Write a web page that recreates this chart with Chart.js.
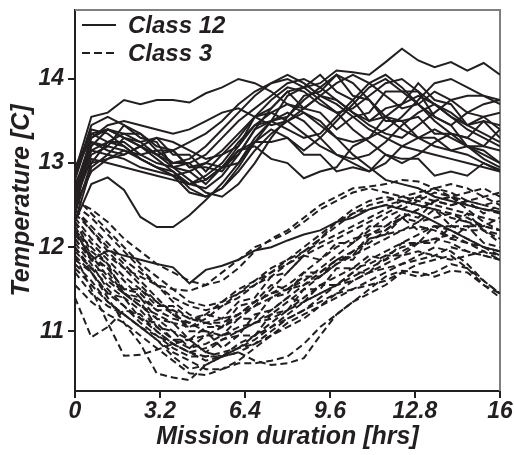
<!DOCTYPE html>
<html>
<head>
<meta charset="utf-8">
<script src="https://cdn.jsdelivr.net/npm/chart.js@4.4.1/dist/chart.umd.min.js"></script>
<style>
  body { margin: 0; background: #fff; }
</style>
</head>
<body>
<canvas id="tempChart" width="514" height="455"></canvas>
<script>
// sample times along the mission (hrs)
var hours = [0, 0.615, 1.231, 1.846, 2.462, 3.077, 3.692, 4.308, 4.923, 5.538, 6.154, 6.769, 7.385,
  8.0, 8.615, 9.231, 9.846, 10.462, 11.077, 11.692, 12.308, 12.923, 13.538, 14.154, 14.769, 15.385, 16.0];

// Class 12 runs, temperature [C]
var class12 = [
  [12.9, 13.55, 13.6, 13.75, 13.7, 13.75, 13.75, 13.72, 13.83, 13.9, 14.0, 13.95, 13.85, 13.7, 13.65, 13.8, 13.95, 14.05, 13.95, 13.8, 13.65, 13.7, 13.85, 13.75, 13.6, 13.55, 13.4],
  [12.7, 13.3, 13.4, 13.3, 13.2, 13.1, 13.0, 13.05, 13.2, 13.4, 13.6, 13.8, 13.95, 14.0, 13.9, 13.95, 14.1, 14.08, 14.05, 14.2, 14.36, 14.22, 14.14, 14.2, 14.1, 14.19, 14.05],
  [12.3, 12.75, 12.83, 12.68, 12.36, 12.24, 12.24, 12.38, 12.56, 12.76, 13.0, 13.3, 13.5, 13.6, 13.5, 13.3, 13.1, 13.0, 12.9, 13.0, 13.2, 13.3, 13.4, 13.3, 13.2, 13.1, 13.0],
  [12.2, 11.85, 11.96, 11.9, 11.85, 11.8, 11.76, 11.57, 11.73, 11.78, 11.85, 11.96, 12.0, 12.08, 12.15, 12.2, 12.3, 12.35, 12.45, 12.5, 12.45, 12.4, 12.3, 12.2, 12.1, 12.0, 11.95],
  [12.6, 13.1, 13.2, 13.15, 13.05, 12.95, 12.85, 12.75, 12.8, 12.95, 13.2, 13.45, 13.6, 13.7, 13.6, 13.5, 13.3, 13.1, 12.95, 12.8, 12.75, 12.7, 12.6, 12.55, 12.5, 12.45, 12.42],
  [12.5, 13.35, 13.4, 13.3, 13.2, 13.05, 12.9, 12.75, 12.7, 12.85, 13.1, 13.4, 13.65, 13.85, 13.9, 13.75, 13.6, 13.4, 13.25, 13.1, 13.0, 13.1, 13.25, 13.35, 13.3, 13.2, 13.15],
  [12.7, 13.25, 13.2, 13.45, 13.3, 13.25, 12.95, 12.9, 12.75, 12.95, 13.1, 13.4, 13.5, 13.8, 13.9, 14.05, 13.85, 13.75, 13.5, 13.65, 13.7, 13.95, 13.75, 13.7, 13.45, 13.5, 13.3],
  [12.4, 13.0, 13.25, 13.35, 13.25, 13.1, 12.95, 12.8, 12.65, 12.6, 12.75, 13.0, 13.3, 13.55, 13.75, 13.9, 14.05, 13.95, 13.75, 13.55, 13.4, 13.3, 13.2, 13.15, 13.1, 13.0, 12.9],
  [12.8, 13.4, 13.35, 13.2, 13.05, 12.95, 12.85, 12.65, 12.6, 12.7, 12.95, 13.25, 13.4, 13.3, 13.15, 13.3, 13.5, 13.7, 13.9, 14.0, 13.85, 13.7, 13.55, 13.45, 13.6, 13.7, 13.75],
  [12.6, 13.25, 13.15, 13.1, 13.2, 13.1, 13.15, 12.95, 12.95, 12.9, 13.15, 13.2, 13.05, 13.0, 12.82, 12.9, 12.95, 13.2, 13.3, 13.55, 13.5, 13.55, 13.35, 13.35, 13.3, 13.5, 13.45],
  [12.9, 13.3, 13.45, 13.5, 13.45, 13.4, 13.35, 13.4, 13.5, 13.6, 13.65, 13.55, 13.45, 13.5, 13.65, 13.8, 13.75, 13.6, 13.45, 13.35, 13.3, 13.45, 13.6, 13.75, 13.8, 13.8, 13.75],
  [12.3, 12.95, 13.1, 13.05, 12.95, 12.9, 12.85, 12.9, 13.0, 13.15, 13.35, 13.55, 13.6, 13.5, 13.35, 13.2, 13.1, 13.05, 13.1, 13.25, 13.45, 13.6, 13.7, 13.6, 13.45, 13.35, 13.25],
  [12.75, 13.15, 13.1, 13.3, 13.25, 13.3, 13.1, 13.1, 12.9, 13.1, 13.2, 13.55, 13.65, 13.85, 13.65, 13.6, 13.4, 13.55, 13.6, 13.85, 13.85, 13.85, 13.55, 13.45, 13.2, 13.15, 13.0],
  [12.55, 13.05, 13.0, 12.95, 12.9, 12.85, 12.8, 12.75, 12.85, 13.0, 13.25, 13.45, 13.5, 13.4, 13.3, 13.35, 13.55, 13.75, 13.95, 14.05, 13.9, 13.7, 13.5, 13.35, 13.2, 13.05, 12.95],
  [12.85, 13.45, 13.55, 13.45, 13.35, 13.2, 13.15, 13.25, 13.35, 13.5, 13.7, 13.85, 13.95, 14.05, 13.95, 13.8, 13.7, 13.55, 13.4, 13.3, 13.2, 13.15, 13.1, 13.05, 13.0, 12.95, 12.9],
  [12.65, 13.15, 13.25, 13.2, 13.05, 12.95, 12.9, 12.7, 12.6, 12.7, 12.9, 13.15, 13.35, 13.5, 13.6, 13.45, 13.3, 13.25, 13.3, 13.4, 13.55, 13.75, 13.95, 14.0, 13.9, 13.8, 13.7],
  [12.45, 13.2, 13.4, 13.35, 13.35, 13.15, 13.15, 12.95, 13.0, 12.95, 13.15, 13.25, 13.5, 13.55, 13.8, 13.85, 14.05, 13.8, 13.75, 13.5, 13.5, 13.3, 13.3, 13.15, 13.2, 13.2, 13.4],
  [12.7, 13.0, 13.05, 13.1, 13.2, 13.3, 13.25, 13.15, 13.05, 13.1, 13.3, 13.55, 13.75, 13.9, 13.85, 13.7, 13.6, 13.65, 13.8, 13.95, 14.0, 13.85, 13.7, 13.55, 13.45, 13.55, 13.6],
  [12.95, 13.35, 13.25, 13.25, 13.1, 13.15, 13.0, 13.0, 12.8, 12.95, 13.0, 13.25, 13.25, 13.3, 13.1, 13.1, 12.9, 12.95, 12.9, 13.1, 13.05, 13.05, 12.85, 12.9, 12.85, 13.0, 12.92],
  [12.5, 12.9, 13.05, 13.15, 13.1, 13.0, 12.95, 13.0, 13.1, 13.3, 13.5, 13.65, 13.8, 13.95, 14.0, 13.9, 13.75, 13.6, 13.5, 13.55, 13.7, 13.8, 13.7, 13.55, 13.4, 13.3, 13.2]
];

// Class 3 runs, temperature [C]
var class3 = [
  [12.55, 12.45, 12.3, 12.1, 11.95, 11.8, 11.7, 11.6, 11.55, 11.6, 11.75, 11.95, 12.1, 12.2, 12.35, 12.5, 12.6, 12.7, 12.72, 12.75, 12.8, 12.78, 12.7, 12.6, 12.65, 12.7, 12.6],
  [12.0, 11.7, 11.4, 11.1, 10.85, 10.5, 10.45, 10.42, 10.6, 10.7, 10.75, 10.65, 10.6, 10.62, 10.68, 10.95, 11.2, 11.35, 11.45, 11.55, 11.7, 11.65, 11.7, 11.8, 11.75, 11.6, 11.45],
  [11.4, 10.93, 11.05, 11.25, 11.2, 11.0, 10.85, 10.75, 10.8, 10.9, 11.0, 11.1, 11.25, 11.4, 11.55, 11.7, 11.85, 11.95, 12.05, 12.2, 12.35, 12.45, 12.55, 12.6, 12.5, 12.45, 12.4],
  [12.3, 11.95, 11.8, 11.45, 11.35, 11.05, 11.0, 10.8, 10.95, 10.95, 11.15, 11.15, 11.4, 11.45, 11.7, 11.7, 11.85, 11.85, 12.1, 12.15, 12.35, 12.3, 12.45, 12.25, 12.25, 12.05, 12.0],
  [11.9, 11.5, 11.1, 10.71, 10.72, 10.78, 10.85, 10.9, 10.95, 11.05, 11.2, 11.35, 11.45, 11.5, 11.55, 11.65, 11.8, 11.95, 12.1, 12.15, 12.2, 12.25, 12.2, 12.1, 12.05, 12.0, 11.95],
  [12.45, 12.2, 12.0, 11.8, 11.6, 11.4, 11.2, 11.05, 11.15, 11.3, 11.45, 11.6, 11.75, 11.85, 11.95, 12.05, 12.15, 12.25, 12.35, 12.45, 12.55, 12.6, 12.55, 12.5, 12.55, 12.6, 12.65],
  [12.1, 11.85, 11.6, 11.45, 11.3, 11.15, 11.0, 10.9, 10.75, 10.7, 10.8, 10.95, 11.1, 11.25, 11.35, 11.45, 11.55, 11.7, 11.85, 11.95, 12.05, 12.15, 12.25, 12.2, 12.1, 12.0, 11.9],
  [11.8, 11.6, 11.35, 11.2, 11.05, 10.9, 10.75, 10.65, 10.55, 10.55, 10.62, 10.62, 10.65, 10.7, 10.85, 11.05, 11.2, 11.35, 11.5, 11.65, 11.72, 11.7, 11.65, 11.72, 11.7, 11.55, 11.4],
  [12.25, 11.9, 11.75, 11.5, 11.5, 11.3, 11.3, 11.15, 11.2, 11.15, 11.35, 11.4, 11.65, 11.7, 11.9, 11.85, 12.05, 12.05, 12.25, 12.25, 12.4, 12.35, 12.55, 12.5, 12.55, 12.4, 12.5],
  [12.5, 12.35, 12.15, 11.95, 11.75, 11.55, 11.35, 11.2, 11.1, 11.05, 11.15, 11.3, 11.5, 11.7, 11.9, 12.1, 12.3, 12.45, 12.55, 12.6, 12.55, 12.5, 12.45, 12.35, 12.3, 12.2, 12.15],
  [11.95, 11.75, 11.55, 11.4, 11.25, 11.05, 10.9, 10.8, 10.85, 10.95, 11.05, 11.1, 11.15, 11.25, 11.4, 11.55, 11.65, 11.75, 11.8, 11.9, 12.0, 12.05, 12.1, 12.15, 12.05, 11.95, 11.85],
  [12.15, 11.9, 11.65, 11.45, 11.3, 11.2, 11.1, 11.05, 11.1, 11.15, 11.2, 11.3, 11.4, 11.5, 11.6, 11.75, 11.9, 12.05, 12.2, 12.35, 12.45, 12.55, 12.65, 12.6, 12.45, 12.3, 12.2],
  [12.05, 11.8, 11.5, 11.3, 11.1, 10.95, 10.8, 10.7, 10.7, 10.75, 10.8, 10.85, 10.95, 11.05, 11.15, 11.3, 11.45, 11.6, 11.7, 11.75, 11.8, 11.9, 12.0, 11.95, 11.8, 11.6, 11.45],
  [12.35, 12.1, 11.9, 11.75, 11.65, 11.55, 11.5, 11.48, 11.55, 11.7, 11.85, 12.0, 12.08, 12.17, 12.3, 12.45, 12.55, 12.65, 12.7, 12.65, 12.6, 12.55, 12.5, 12.45, 12.4, 12.35, 12.3],
  [11.85, 11.7, 11.45, 11.4, 11.15, 11.1, 10.9, 10.9, 10.75, 10.9, 10.95, 11.2, 11.25, 11.4, 11.35, 11.55, 11.55, 11.7, 11.7, 11.9, 11.9, 12.05, 12.05, 12.25, 12.2, 12.2, 12.05],
  [12.2, 12.0, 11.8, 11.6, 11.4, 11.25, 11.15, 11.1, 11.0, 10.95, 11.0, 11.1, 11.2, 11.35, 11.5, 11.65, 11.8, 11.9, 12.0, 12.1, 12.2, 12.3, 12.35, 12.4, 12.35, 12.25, 12.2],
  [12.4, 12.2, 11.95, 11.75, 11.55, 11.35, 11.2, 11.1, 11.2, 11.35, 11.5, 11.6, 11.7, 11.8, 11.9, 12.0, 12.1, 12.2, 12.3, 12.4, 12.5, 12.6, 12.7, 12.75, 12.7, 12.6, 12.5],
  [11.7, 11.45, 11.3, 11.2, 11.05, 10.9, 10.7, 10.55, 10.6, 10.7, 10.85, 10.95, 11.05, 11.15, 11.25, 11.4, 11.55, 11.65, 11.75, 11.85, 11.95, 12.05, 12.1, 12.05, 11.95, 11.9, 11.85],
  [12.6, 12.4, 12.2, 12.0, 11.8, 11.65, 11.5, 11.35, 11.3, 11.35, 11.45, 11.55, 11.65, 11.8, 11.95, 12.1, 12.25, 12.4, 12.5, 12.55, 12.6, 12.65, 12.7, 12.65, 12.55, 12.5, 12.45],
  [12.0, 11.75, 11.7, 11.45, 11.4, 11.15, 11.1, 10.9, 11.05, 11.05, 11.3, 11.35, 11.55, 11.5, 11.65, 11.65, 11.85, 11.9, 12.15, 12.2, 12.35, 12.2, 12.25, 12.1, 12.25, 12.25, 12.35],
  [11.55, 11.35, 11.2, 11.1, 10.95, 10.8, 10.65, 10.5, 10.48, 10.55, 10.65, 10.8, 10.95, 11.1, 11.2, 11.3, 11.4, 11.5, 11.6, 11.7, 11.8, 11.85, 11.9, 12.0, 11.95, 11.9, 11.85],
  [12.3, 12.05, 11.85, 11.65, 11.5, 11.35, 11.25, 11.15, 11.1, 11.1, 11.2, 11.35, 11.45, 11.55, 11.7, 11.85, 12.0, 12.1, 12.15, 12.25, 12.35, 12.45, 12.55, 12.6, 12.55, 12.5, 12.55],
  [12.1, 11.85, 11.75, 11.5, 11.45, 11.25, 11.25, 11.0, 11.0, 10.8, 10.95, 10.95, 11.2, 11.25, 11.5, 11.5, 11.75, 11.75, 11.9, 11.85, 12.05, 12.05, 12.25, 12.25, 12.4, 12.2, 12.1],
  [11.9, 11.7, 11.45, 11.3, 11.15, 11.0, 10.85, 10.75, 10.65, 10.7, 10.8, 10.9, 11.05, 11.2, 11.35, 11.45, 11.55, 11.6, 11.7, 11.8, 11.9, 11.95, 11.9, 11.85, 11.9, 11.95, 11.9],
  [12.45, 12.25, 12.05, 11.85, 11.7, 11.55, 11.4, 11.3, 11.25, 11.3, 11.4, 11.55, 11.7, 11.85, 12.0, 12.15, 12.3, 12.4, 12.45, 12.5, 12.55, 12.5, 12.45, 12.4, 12.3, 12.25, 12.2],
  [11.75, 11.55, 11.35, 11.2, 11.05, 10.95, 10.85, 10.75, 10.7, 10.7, 10.75, 10.85, 11.0, 11.15, 11.25, 11.35, 11.45, 11.5, 11.55, 11.6, 11.7, 11.8, 11.85, 11.9, 11.75, 11.55, 11.45]
];

var xTicks = [0, 3.2, 6.4, 9.6, 12.8, 16];
var yTicks = [11, 12, 13, 14];
var seriesNames = ['Class 12', 'Class 3'];

var ink = '#231f20';
var dash = [7, 4];
var fontFam = '"Liberation Sans", Arial, sans-serif';

function toPoints(run) {
  return run.map(function (v, i) { return { x: hours[i], y: v }; });
}

var datasets = [];
class12.forEach(function (run) {
  datasets.push({ label: seriesNames[0], data: toPoints(run), borderColor: ink, borderWidth: 2, pointRadius: 0, tension: 0, fill: false });
});
class3.forEach(function (run) {
  datasets.push({ label: seriesNames[1], data: toPoints(run), borderColor: ink, borderWidth: 2, borderDash: dash, pointRadius: 0, tension: 0, fill: false });
});

// grey frame on top/right plus the legend inside the plot
var framePlugin = {
  id: 'framePlugin',
  beforeDatasetsDraw: function (chart) {
    var a = chart.chartArea, ctx = chart.ctx;
    ctx.save();
    ctx.strokeStyle = '#7f7f7f';
    ctx.lineWidth = 2;
    ctx.beginPath();
    ctx.moveTo(a.left, a.top);
    ctx.lineTo(a.right, a.top);
    ctx.lineTo(a.right, a.bottom);
    ctx.stroke();
    ctx.restore();
  },
  afterDraw: function (chart) {
    var ctx = chart.ctx;
    ctx.save();
    ctx.strokeStyle = ink;
    ctx.lineWidth = 2;
    ctx.beginPath();
    ctx.moveTo(82, 25); ctx.lineTo(116, 25);
    ctx.stroke();
    ctx.setLineDash([8, 4]);
    ctx.beginPath();
    ctx.moveTo(82, 53); ctx.lineTo(116, 53);
    ctx.stroke();
    ctx.setLineDash([]);
    ctx.fillStyle = ink;
    ctx.font = 'italic bold 24px ' + fontFam;
    ctx.textBaseline = 'alphabetic';
    ctx.fillText(seriesNames[0], 128, 33);
    ctx.fillText(seriesNames[1], 128, 61);
    ctx.restore();
  }
};

new Chart('tempChart', {
  type: 'line',
  data: { datasets: datasets },
  options: {
    responsive: false,
    animation: false,
    devicePixelRatio: 1,
    layout: { padding: { top: 10, right: 14, left: 0, bottom: 0 } },
    plugins: { legend: { display: false }, tooltip: { enabled: false } },
    scales: {
      x: {
        type: 'linear',
        min: 0,
        max: 16,
        afterBuildTicks: function (s) { s.ticks = xTicks.map(function (v) { return { value: v }; }); },
        afterFit: function (s) { s.height = 64; },
        grid: { drawOnChartArea: false, tickLength: 7, color: ink, lineWidth: 2 },
        border: { color: ink, width: 2 },
        ticks: {
          autoSkip: false, maxRotation: 0, padding: 0, color: ink,
          font: { family: fontFam, size: 23, weight: 'bold', style: 'italic' },
          callback: function (v) { return String(v); }
        },
        title: {
          display: true, text: 'Mission duration [hrs]', color: ink,
          font: { family: fontFam, size: 25, weight: 'bold', style: 'italic' },
          padding: { top: 0, bottom: 3 }
        }
      },
      y: {
        min: 10.29,
        max: 14.82,
        afterBuildTicks: function (s) { s.ticks = yTicks.map(function (v) { return { value: v }; }); },
        afterFit: function (s) { s.width = 75; s.paddingTop = 0; s.paddingBottom = 0; },
        grid: { drawOnChartArea: false, tickLength: 7, color: ink, lineWidth: 2 },
        border: { color: ink, width: 2 },
        ticks: {
          padding: 4, color: ink,
          font: { family: fontFam, size: 23, weight: 'bold', style: 'italic' },
          callback: function (v) { return String(v); }
        },
        title: {
          display: true, text: 'Temperature [C]', color: ink,
          font: { family: fontFam, size: 25, weight: 'bold', style: 'italic' },
          padding: { top: 7, bottom: 0 }
        }
      }
    }
  },
  plugins: [framePlugin]
});
</script>
</body>
</html>
